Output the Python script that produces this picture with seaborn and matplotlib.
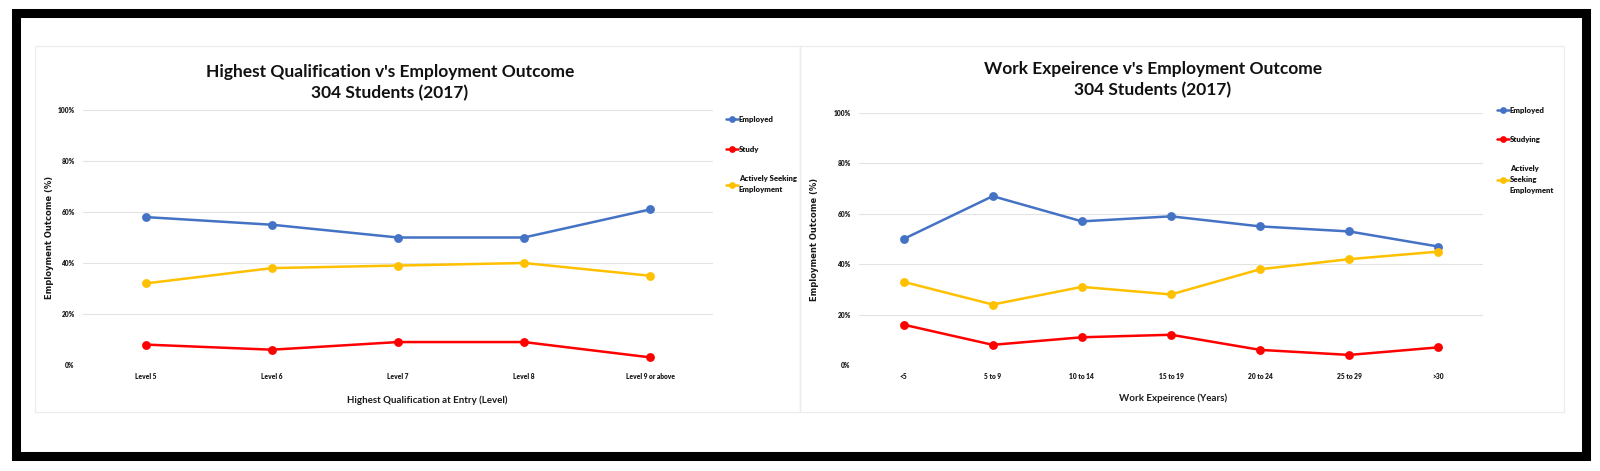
import matplotlib.pyplot as plt
import matplotlib.patches as mpatches
import numpy as np
import pandas as pd
import seaborn as sns

# left chart
qual_levels = ['Level 5', 'Level 6', 'Level 7', 'Level 8', 'Level 9 or above']
qual_employed = [58, 55, 50, 50, 61]
qual_study = [8, 6, 9, 9, 3]
qual_seeking = [32, 38, 39, 40, 35]

# right chart
work_years = ['<5', '5 to 9', '10 to 14', '15 to 19', '20 to 24', '25 to 29', '>30']
work_employed = [50, 67, 57, 59, 55, 53, 47]
work_studying = [16, 8, 11, 12, 6, 4, 7]
work_seeking = [33, 24, 31, 28, 38, 42, 45]

BLUE, RED, GOLD = '#4472C4', '#FF0000', '#FFC000'
W, H = 1600, 471


def long_frame(cats, series):
    rows = []
    for name, vals in series.items():
        for c, v in zip(cats, vals):
            rows.append({'cat': c, 'series': name, 'value': v})
    return pd.DataFrame(rows)


def px_axes(fig, x0, y0, x1, y1):
    return fig.add_axes([x0 / W, 1 - y1 / H, (x1 - x0) / W, (y1 - y0) / H])


def draw_panel(ax, df, cats, names, legend_labels, title, title_xy, xlabel,
               xlabel_xy, ylabel_x, legend_xy, spacing):
    sns.pointplot(data=df, x='cat', y='value', hue='series', order=cats,
                  hue_order=names, palette=[BLUE, RED, GOLD], errorbar=None,
                  markers='o', markersize=5, linewidth=1.8, ax=ax)
    ax.set_ylim(0, 100)
    ax.set_yticks(np.arange(0, 101, 20))
    ax.set_yticklabels([f'{t}%' for t in range(0, 101, 20)])
    ax.tick_params(length=0, labelsize=4.8, colors='#1a1a1a', pad=6)
    for lab in ax.get_xticklabels() + ax.get_yticklabels():
        lab.set_fontweight('heavy')
    ax.grid(axis='y', color='#e3e3e3', lw=0.8)
    ax.set_axisbelow(True)
    sns.despine(ax=ax, left=True, bottom=True)
    ax.set_xlabel(xlabel, fontsize=7, fontweight='bold', color='#1a1a1a')
    ax.xaxis.set_label_coords(*xlabel_xy)
    ax.set_ylabel('Employment Outcome (%)', fontsize=6, fontweight='bold',
                  family='DejaVu Sans', color='#1a1a1a')
    ax.yaxis.set_label_coords(ylabel_x, 0.5)
    ax.text(title_xy[0], title_xy[1], title, transform=ax.transAxes, ha='center',
            va='center', fontsize=12.5, fontweight='bold', linespacing=1.35,
            color='#111111')
    handles, _ = ax.get_legend_handles_labels()
    for h in handles:
        h.set_markersize(3.5)
    leg = ax.legend(handles, legend_labels, loc='upper left', bbox_to_anchor=legend_xy,
                    frameon=False, fontsize=5.6, handlelength=1.6, handletextpad=0.1,
                    labelspacing=spacing, borderaxespad=0, borderpad=0)
    for t in leg.get_texts():
        t.set_fontweight('heavy')
        t.set_color('#1a1a1a')
        t.set_linespacing(1.65)


def main():
    sns.set_style('white')
    plt.rcParams['font.family'] = ['Lato', 'DejaVu Sans']
    fig = plt.figure(figsize=(16, 4.71), dpi=100)

    # outer black frame and the two light panel borders
    fig.patches.append(mpatches.Rectangle((15.5 / W, 1 - 456 / H), 1570 / W, 443.5 / H,
                                          transform=fig.transFigure, fill=False,
                                          edgecolor='black', lw=6.5))
    for x0, x1 in [(35, 800), (800, 1564)]:
        fig.patches.append(mpatches.Rectangle((x0 / W, 1 - 412 / H), (x1 - x0) / W, 366 / H,
                                              transform=fig.transFigure, fill=False,
                                              edgecolor='#ececec', lw=0.9))

    ax1 = px_axes(fig, 83, 110, 713, 365)
    df1 = long_frame(qual_levels, {'Employed': qual_employed, 'Study': qual_study,
                                   'Actively Seeking Employment': qual_seeking})
    draw_panel(ax1, df1, qual_levels, ['Employed', 'Study', 'Actively Seeking Employment'],
               ['Employed', 'Study', 'Actively Seeking\nEmployment'],
               "Highest Qualification v's Employment Outcome\n304 Students (2017)",
               (0.487, 1.108), 'Highest Qualification at Entry (Level)', (0.546, -0.118),
               -0.046, (1.020, 0.978), 2.95)

    ax2 = px_axes(fig, 859, 113, 1483, 365)
    df2 = long_frame(work_years, {'Employed': work_employed, 'Studying': work_studying,
                                  'Actively Seeking Employment': work_seeking})
    draw_panel(ax2, df2, work_years, ['Employed', 'Studying', 'Actively Seeking Employment'],
               ['Employed', 'Studying', 'Actively\nSeeking\nEmployment'],
               "Work Expeirence v's Employment Outcome\n304 Students (2017)",
               (0.471, 1.133), 'Work Expeirence (Years)', (0.503, -0.112),
               -0.064, (1.022, 1.024), 2.85)

    fig.savefig('out.png')


if __name__ == "__main__":
    main()
